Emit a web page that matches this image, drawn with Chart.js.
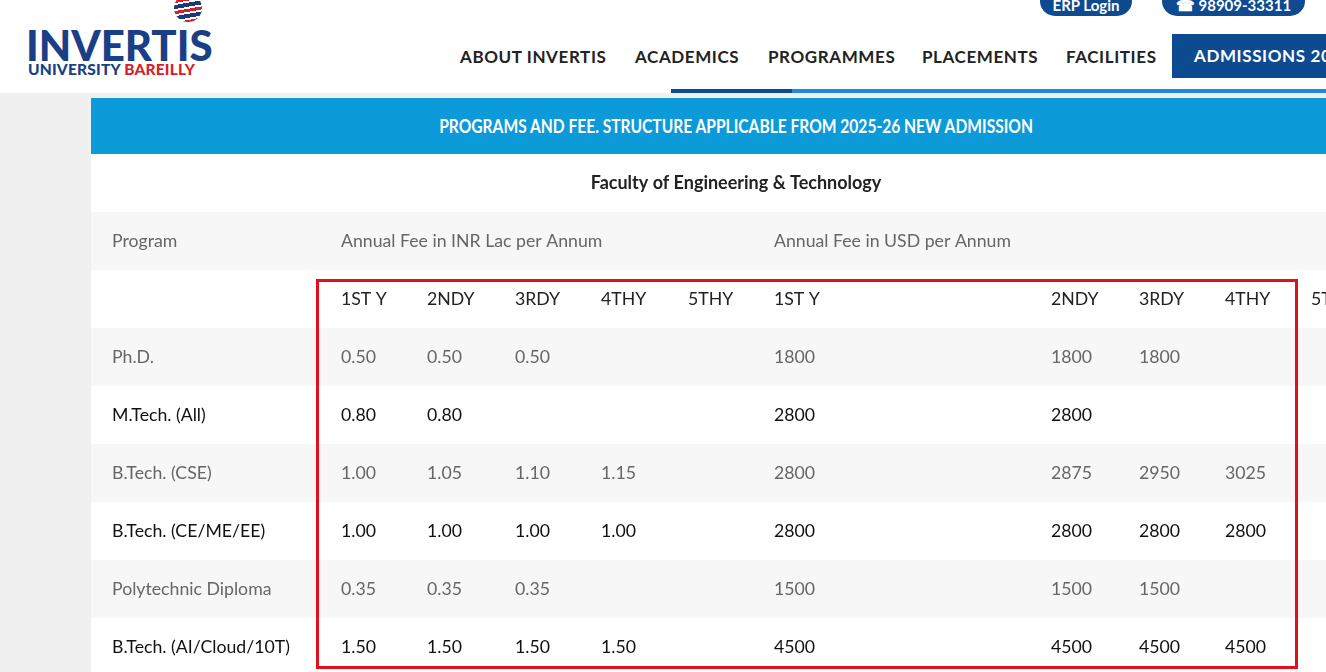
<!DOCTYPE html>
<html><head><meta charset="utf-8">
<script src="https://cdn.jsdelivr.net/npm/chart.js@4"></script>
<style>
body{margin:0;width:1326px;height:672px;overflow:hidden;background:#f0f0f0;font-family:Lato,sans-serif;position:relative}
#hdr{position:absolute;left:0;top:0;width:1326px;height:93px;background:#fff}
.nav{position:absolute;top:46px;font-weight:bold;font-size:17px;letter-spacing:0.6px;color:#222;white-space:nowrap}
#adm{position:absolute;left:1172px;top:34px;width:170px;height:44px;background:#0d4a8f;color:#fff;font-weight:bold;font-size:17px;letter-spacing:0.6px;line-height:44px;padding-left:22px;box-sizing:border-box;white-space:nowrap;overflow:hidden}
.pill{position:absolute;top:-14px;height:30px;background:#0d4a8f;border-radius:15px;color:#fff;font-weight:bold;font-size:15px;line-height:38px;text-align:center;white-space:nowrap}
#banner{position:absolute;left:91px;top:98px;width:1235px;height:56px;background:#0c9ad9;color:#fff;font-weight:bold;font-size:19px;line-height:56px;text-align:center;padding-left:56px;box-sizing:border-box}
#banner span{display:inline-block;transform:scaleX(0.82)}
#wrap{position:absolute;left:91px;top:154px;width:1235px;height:518px}
#red{position:absolute;left:316px;top:279px;width:976px;height:384px;border:3px solid #e0101f}
</style></head><body>
<div id="hdr">
  <div style="position:absolute;left:174px;top:-6px;width:28px;height:28px;border-radius:50%;background:repeating-linear-gradient(170deg,#1a3a7a 0 4px,#fff 4px 6px,#d81e2a 6px 9px,#fff 9px 11px)"></div>
  <div style="position:absolute;left:26px;top:20px;font-weight:900;font-size:42px;color:#1a3f86;letter-spacing:0px;white-space:nowrap">INVERTIS</div>
  <div style="position:absolute;left:28px;top:60px;font-weight:900;font-size:15.5px;color:#1a3f86;letter-spacing:0.2px;white-space:nowrap">UNIVERSITY <span style="color:#d81e2a">BAREILLY</span></div>
  <div class="nav" style="left:460px">ABOUT INVERTIS</div>
  <div class="nav" style="left:635px">ACADEMICS</div>
  <div class="nav" style="left:768px">PROGRAMMES</div>
  <div class="nav" style="left:922px">PLACEMENTS</div>
  <div class="nav" style="left:1066px">FACILITIES</div>
  <div id="adm">ADMISSIONS 2025</div>
  <div class="pill" style="left:1040px;width:92px">ERP Login</div>
  <div class="pill" style="left:1162px;width:143px">&#9742; 98909-33311</div>
  <div style="position:absolute;left:671px;top:89px;width:121px;height:4px;background:#0d4a8f"></div>
  <div style="position:absolute;left:792px;top:89px;width:534px;height:4px;background:#1e88e5"></div>
</div>
<div id="banner"><span>PROGRAMS AND FEE. STRUCTURE APPLICABLE FROM 2025-26 NEW ADMISSION</span></div>
<div id="wrap"><canvas id="tbl"></canvas></div>
<div id="red"></div>
<script>
const title = 'Faculty of Engineering & Technology';
const groupHeads = ['Program', 'Annual Fee in INR Lac per Annum', 'Annual Fee in USD per Annum'];
const yearLabels = ['1ST Y', '2NDY', '3RDY', '4THY', '5THY', '1ST Y', '2NDY', '3RDY', '4THY', '5THY'];
const programs = ['Ph.D.', 'M.Tech. (All)', 'B.Tech. (CSE)', 'B.Tech. (CE/ME/EE)', 'Polytechnic Diploma', 'B.Tech. (AI/Cloud/10T)'];
const inrFees = [
  ['0.50', '0.50', '0.50', '', ''],
  ['0.80', '0.80', '', '', ''],
  ['1.00', '1.05', '1.10', '1.15', ''],
  ['1.00', '1.00', '1.00', '1.00', ''],
  ['0.35', '0.35', '0.35', '', ''],
  ['1.50', '1.50', '1.50', '1.50', '']
];
const usdFees = [
  ['1800', '1800', '1800', '', ''],
  ['2800', '2800', '', '', ''],
  ['2800', '2875', '2950', '3025', ''],
  ['2800', '2800', '2800', '2800', ''],
  ['1500', '1500', '1500', '', ''],
  ['4500', '4500', '4500', '4500', '']
];

// column left edges in page pixels
const colX = [112, 341, 427, 515, 601, 688, 774, 1051, 1139, 1225, 1311];
const groupX = [112, 341, 774];

const tablePlugin = {
  id: 'tablePlugin',
  beforeDatasetsDraw(chart) {
    const {ctx, scales: {x, y}} = chart;
    const rowTop = r => y.getPixelForValue(r);
    const rowMid = r => y.getPixelForValue(r + 0.5);
    const nRows = 3 + programs.length;
    for (let r = 0; r < nRows; r++) {
      ctx.fillStyle = (r % 2 === 1) ? '#f7f7f7' : '#ffffff';
      ctx.fillRect(x.left, rowTop(r), x.right - x.left, rowTop(r + 1) - rowTop(r));
    }
    ctx.textBaseline = 'middle';
    ctx.font = 'bold 18px Lato';
    ctx.fillStyle = '#222';
    ctx.textAlign = 'center';
    ctx.fillText(title, x.getPixelForValue(736), rowMid(0));
    ctx.textAlign = 'left';
    ctx.font = '17.7px Lato';
    ctx.fillStyle = '#666';
    groupHeads.forEach((t, i) => ctx.fillText(t, x.getPixelForValue(groupX[i]), rowMid(1)));
    ctx.fillStyle = '#222';
    yearLabels.forEach((t, i) => ctx.fillText(t, x.getPixelForValue(colX[i + 1]), rowMid(2)));
    programs.forEach((p, i) => {
      const r = 3 + i;
      ctx.fillStyle = (i % 2 === 0) ? '#666' : '#111';
      const cells = [p].concat(inrFees[i], usdFees[i]);
      cells.forEach((t, c) => ctx.fillText(t, x.getPixelForValue(colX[c]), rowMid(r)));
    });
  }
};

new Chart(document.getElementById('tbl'), {
  type: 'scatter',
  data: { datasets: [{ data: [] }] },
  options: {
    responsive: true,
    maintainAspectRatio: false,
    animation: false,
    layout: { padding: 0 },
    plugins: { legend: { display: false }, tooltip: { enabled: false } },
    scales: {
      x: { type: 'linear', display: false, min: 91, max: 1326 },
      y: { type: 'linear', display: false, min: 0, max: 518 / 58, reverse: true }
    }
  },
  plugins: [tablePlugin]
});
</script>
</body></html>
